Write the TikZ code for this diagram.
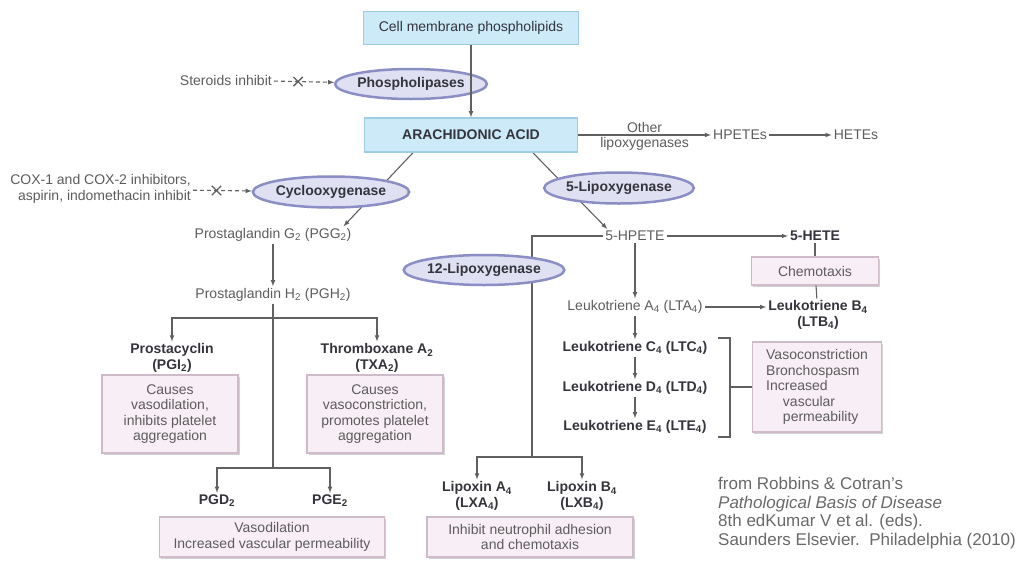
\documentclass[tikz,border=0pt]{standalone}
\usepackage{fontspec}
\setmainfont{Liberation Sans}
\usetikzlibrary{shapes.geometric,shapes.misc,shadows,backgrounds}
\definecolor{linegray}{RGB}{96,96,96}
\definecolor{txtgray}{RGB}{92,92,92}
\definecolor{txtdark}{RGB}{52,52,60}
\definecolor{citegray}{RGB}{105,105,105}
\definecolor{aqfill}{RGB}{204,234,247}
\definecolor{aqdraw}{RGB}{158,204,228}
\definecolor{lavfill}{RGB}{224,224,243}
\definecolor{lavdraw}{RGB}{138,142,196}
\definecolor{pinkfill}{RGB}{248,238,245}
\definecolor{pinkdraw}{RGB}{206,186,201}
\newcommand{\sbs}[1]{\textsubscript{#1}}

\begin{document}
\begin{tikzpicture}[x=1pt, y=-1pt, font=\fontsize{14}{15.5}\selectfont]
	\tikzset{>=latex}
	\tikzset{
	    conn/.style={draw=linegray, line width=1.1pt},
	    inhib/.style={conn, dash pattern=on 4pt off 3pt, ->},
	    xmark/.style={cross out, solid, draw=linegray, line width=1.3pt, minimum size=8pt, inner sep=0pt},
	    lbl/.style={text=txtgray, align=center, inner sep=2pt},
	    blbl/.style={lbl, text=txtdark, font=\fontsize{14}{15.5}\selectfont\bfseries},
	    substrate/.style={rectangle, fill=aqfill, draw=aqdraw, line width=1.5pt, text=txtdark},
	    enzyme/.style={ellipse, fill=lavfill, draw=lavdraw, line width=2.5pt, text=txtdark, inner sep=0pt,
	        font=\fontsize{14}{15.5}\selectfont\bfseries},
	    effect/.style={rectangle, fill=pinkfill, draw=pinkdraw, line width=1.2pt, text=txtgray, align=center,
	        drop shadow={shadow xshift=1.5pt, shadow yshift=-2pt, fill=black!35}},
	}
	\useasboundingbox (0,0) rectangle (1031,560);

	% membrane and arachidonic acid
	\node[substrate, minimum width=215pt, minimum height=33pt] (cell) at (471,28) {Cell membrane phospholipids};
	\node[substrate, minimum width=213pt, minimum height=34pt, font=\fontsize{14}{15.5}\selectfont\bfseries] (aa) at (471,135) {ARACHIDONIC ACID};
	\node[enzyme, minimum width=145pt, minimum height=30pt] (phl) at (411,84) {Phospholipases};
	\node[lbl, anchor=east] (ster) at (274,80) {Steroids inhibit};
	\draw[conn,->] (cell) -- (aa);
	\draw[inhib] (ster) -- (phl) node[xmark, pos=0.4] (x1) {};

	% other lipoxygenases
	\node[lbl] (hpetes) at (740,135) {HPETEs};
	\node[lbl] (hetes) at (856,135) {HETEs};
	\draw[conn,->] (aa) -- (hpetes) node[lbl, midway, above] (oth) {Other} node[lbl, midway, below] (olox) {lipoxygenases};
	\draw[conn,->] (hpetes) -- (hetes);

	% cyclooxygenase branch
	\node[lbl] (pgg) at (273,235) {Prostaglandin G\sbs{2} (PGG\sbs{2})};
	\node[lbl] (pgh) at (273,295) {Prostaglandin H\sbs{2} (PGH\sbs{2})};
	\node[lbl, anchor=east, align=right] (nsaid) at (193,189) {COX-1 and COX-2 inhibitors,\\aspirin, indomethacin inhibit};
	\node[blbl] (pgi) at (172,358) {Prostacyclin\\(PGI\sbs{2})};
	\node[blbl] (txa) at (377,358) {Thromboxane A\sbs{2}\\(TXA\sbs{2})};
	\node[effect, minimum width=136pt, minimum height=78pt] (pgibox) at (170,414) {Causes\\vasodilation,\\inhibits platelet\\aggregation};
	\node[effect, minimum width=136pt, minimum height=78pt] (txabox) at (375,414) {Causes\\vasoconstriction,\\promotes platelet\\aggregation};
	\node[blbl] (pgd) at (217,501) {PGD\sbs{2}};
	\node[blbl] (pge) at (330,501) {PGE\sbs{2}};
	\node[effect, minimum width=225pt, minimum height=40pt] (pgdbox) at (272,537) {Vasodilation\\Increased vascular permeability};
	\coordinate (j1) at (273,318);
	\coordinate (j2) at (273,468);
	\draw[conn,->] (pgg) -- (pgh);
	\draw[conn] (pgh) -- (j2);
	\draw[conn,->] (j1) -| (pgi);
	\draw[conn,->] (j1) -| (txa);
	\draw[conn,->] (j2) -| (pgd);
	\draw[conn,->] (j2) -| (pge);

	% lipoxygenase branch
	\node[lbl] (hpete) at (635,236) {5-HPETE};
	\node[blbl] (hete) at (815,236) {5-HETE};
	\node[effect, minimum width=127pt, minimum height=28pt] (chemo) at (815,271) {Chemotaxis};
	\node[lbl] (lta) at (635,307) {Leukotriene A\sbs{4} (LTA\sbs{4})};
	\node[blbl] (ltb) at (818,315) {Leukotriene B\sbs{4}\\(LTB\sbs{4})};
	\node[blbl] (ltc) at (635,348) {Leukotriene C\sbs{4} (LTC\sbs{4})};
	\node[blbl] (ltd) at (635,388) {Leukotriene D\sbs{4} (LTD\sbs{4})};
	\node[blbl] (lte) at (635,427) {Leukotriene E\sbs{4} (LTE\sbs{4})};
	\node[effect, minimum width=129pt, minimum height=90pt, align=left] (vaso) at (817,387) {Vasoconstriction\\Bronchospasm\\Increased\\\hspace{1.2em}vascular\\\hspace{1.2em}permeability};
	\node[blbl] (lxa) at (477,496) {Lipoxin A\sbs{4}\\(LXA\sbs{4})};
	\node[blbl] (lxb) at (582,496) {Lipoxin B\sbs{4}\\(LXB\sbs{4})};
	\node[effect, minimum width=206pt, minimum height=40pt] (lxbox) at (530,537) {Inhibit neutrophil adhesion\\and chemotaxis};
	\coordinate (j3) at (532,457);
	\coordinate (brk) at (730,387);
	\draw[conn,->] (hpete) -- (hete);
	\draw[conn] (hete) -- (chemo);
	\draw[conn] (chemo) -- (ltb);
	\draw[conn,->] (lta) -- (lta -| ltb.west);
	\foreach \a/\b in {hpete/lta, lta/ltc, ltc/ltd, ltd/lte} {
	    \draw[conn,->] (\a) -- (\b);
	    }
	\draw[conn] (718,338) -- (730,338) -- (730,437) -- (718,437);
	\draw[conn] (brk) -- (vaso);
	\draw[conn,->] (j3) -| (lxa);
	\draw[conn,->] (j3) -| (lxb);

	% enzymes sit over their lines
	\node[enzyme, minimum width=143pt, minimum height=31pt] (cox) at (331,192) {Cyclooxygenase};
	\node[enzyme, minimum width=138pt, minimum height=31pt] (lox5) at (619,188) {5-Lipoxygenase};
	\node[enzyme, minimum width=155pt, minimum height=30pt] (lox12) at (484,270) {12-Lipoxygenase};
	\draw[inhib] (nsaid) -- (cox) node[xmark, pos=0.4] (x2) {};
	\begin{scope}[on background layer]
	    \draw[conn,->] (aa.197.5) -- ([xshift=-10pt]pgg.north east);
	    \draw[conn,->] (aa.-16) -- ([xshift=4pt]hpete.north west);
	    \draw[conn] (hpete.west) -| (j3);
	\end{scope}

	\node[anchor=north west, align=left, inner sep=0pt, text=citegray, font=\fontsize{17}{18.6}\selectfont] (cite) at (718,477)
	    {from Robbins \& Cotran's\\\textit{Pathological Basis of Disease}\\8th edKumar V et al. (eds).\\Saunders Elsevier.\ \ Philadelphia (2010)};
\end{tikzpicture}
\end{document}
